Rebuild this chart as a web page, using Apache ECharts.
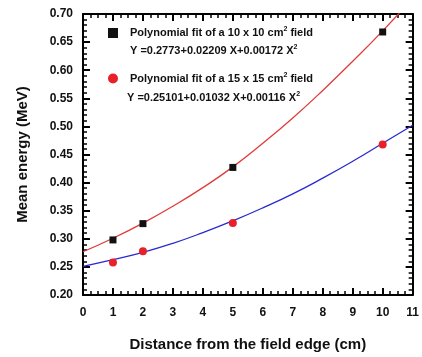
<!DOCTYPE html>
<html lang="en">
<head>
  <meta charset="UTF-8">
  <title>Mean energy vs distance</title>
  <script src="https://cdn.jsdelivr.net/npm/echarts@6/dist/echarts.min.js"></script>
</head>
<body style="margin:0">
<div id="main" style="width: 422px;height: 357px;"></div>
<script>
  // measured points
  let distances = [1, 2, 5, 10]
  let field10 = [0.298, 0.327, 0.427, 0.668]
  let field15 = [0.258, 0.278, 0.328, 0.468]
  // fit curves
  let curveX = [0, 1, 2, 3, 4, 5, 6, 7, 8, 9, 10, 11]
  let fit10 = [0.277, 0.301, 0.328, 0.358, 0.391, 0.428, 0.470, 0.515, 0.564, 0.616, 0.670, 0.728]
  let fit15 = [0.251, 0.263, 0.276, 0.292, 0.311, 0.332, 0.355, 0.380, 0.408, 0.438, 0.470, 0.502]
  let legendNames = ['Polynomial fit of a 10 x 10 cm2 field', 'Polynomial fit of a 15 x 15 cm2 field']
  let equations = ['Y =0.2773+0.02209 X+0.00172 X{sup|2}', 'Y =0.25101+0.01032 X+0.00116 X{sup|2}']

  let zip = (xs, ys) => xs.map((x, i) => [x, ys[i]])
  let font = 'Liberation Sans, Arial, sans-serif'
  let sup = {fontSize: 7, fontWeight: 'bold', verticalAlign: 'top', padding: [0, 0, 7, 0], color: '#111', fontFamily: font}

  let myChart = echarts.init(document.getElementById('main'))

  // common axis look: thick black line, ticks pointing inside
  function axisStyle(split) {
    return {
      axisLine: {show: true, onZero: false, lineStyle: {color: '#000', width: 2}},
      axisTick: {show: true, inside: true, length: 7, lineStyle: {color: '#000', width: 2}},
      minorTick: {show: true, splitNumber: split, length: 4, lineStyle: {color: '#000', width: 1.5}},
      splitLine: {show: false},
      minorSplitLine: {show: false}
    }
  }

  let option = {
    animation: false,
    grid: {left: 83, right: 6, top: 14, bottom: 60},
    legend: {
      orient: 'vertical',
      left: 108,
      top: 26,
      padding: 0,
      itemWidth: 10,
      itemHeight: 10,
      itemGap: 33,
      data: [
        {name: legendNames[0], icon: 'rect'},
        {name: legendNames[1], icon: 'circle'}
      ],
      formatter: name => name.replace('cm2', 'cm{sup|2}'),
      textStyle: {
        fontFamily: font, fontSize: 11, fontWeight: 'bold', color: '#111', padding: [0, 0, 0, 7],
        rich: {sup: sup}
      }
    },
    graphic: [
      {type: 'text', left: 130, top: 44, style: {text: equations[0], font: 'bold 11px ' + font, fill: '#111', rich: {sup: sup}}},
      {type: 'text', left: 127, top: 91, style: {text: equations[1], font: 'bold 11px ' + font, fill: '#111', rich: {sup: sup}}}
    ],
    xAxis: [
      Object.assign({
        type: 'value', min: 0, max: 11, interval: 1,
        name: 'Distance from the field edge (cm)',
        nameLocation: 'middle', nameGap: 42,
        nameTextStyle: {fontFamily: font, fontSize: 15, fontWeight: 'bold', color: '#111'},
        axisLabel: {fontFamily: font, fontSize: 12, fontWeight: 'bold', color: '#111', margin: 12}
      }, axisStyle(4)),
      Object.assign({
        type: 'value', position: 'top', min: 0, max: 11, interval: 1,
        axisLabel: {show: false}
      }, axisStyle(4))
    ],
    yAxis: [
      Object.assign({
        type: 'value', min: 0.2, max: 0.7, interval: 0.05,
        name: 'Mean energy (MeV)',
        nameLocation: 'middle', nameGap: 53,
        nameTextStyle: {fontFamily: font, fontSize: 15, fontWeight: 'bold', color: '#111'},
        axisLabel: {fontFamily: font, fontSize: 12, fontWeight: 'bold', color: '#111', margin: 10, formatter: v => v.toFixed(2)}
      }, axisStyle(5)),
      Object.assign({
        type: 'value', position: 'right', min: 0.2, max: 0.7, interval: 0.05,
        axisLabel: {show: false}
      }, axisStyle(5))
    ],
    series: [
      {
        type: 'line', data: zip(curveX, fit10), smooth: true, showSymbol: false, clip: true,
        lineStyle: {color: '#e03a3a', width: 1.3}, z: 2
      },
      {
        type: 'line', data: zip(curveX, fit15), smooth: true, showSymbol: false, clip: true,
        lineStyle: {color: '#2a2ad0', width: 1.3}, z: 2
      },
      {
        name: legendNames[0], type: 'scatter', data: zip(distances, field10),
        symbol: 'rect', symbolSize: 7, itemStyle: {color: '#111', opacity: 1}, z: 3
      },
      {
        name: legendNames[1], type: 'scatter', data: zip(distances, field15),
        symbol: 'circle', symbolSize: 8, itemStyle: {color: '#e8202a', opacity: 1}, z: 3
      }
    ]
  }
  myChart.setOption(option)
</script>
</body>
</html>
